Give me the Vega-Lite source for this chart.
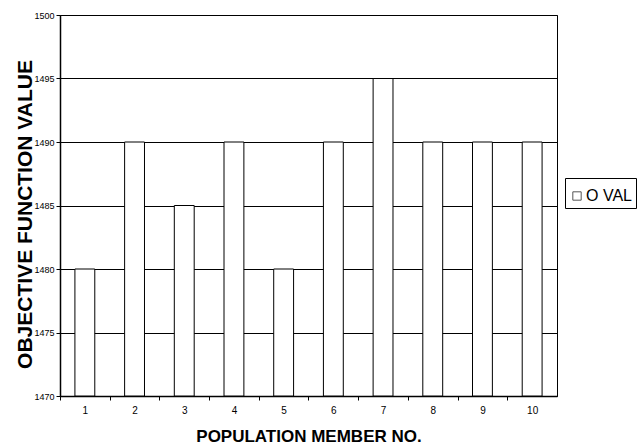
{
  "$schema": "https://vega.github.io/schema/vega-lite/v6.json",
  "width": 497,
  "height": 381,
  "autosize": {"type": "none"},
  "padding": {"left": 60, "top": 15, "right": 85, "bottom": 49},
  "background": "white",
  "config": {
    "font": "Liberation Sans",
    "view": {"stroke": "black", "strokeWidth": 1}
  },
  "data": {
    "values": [
      {"member": "1", "oval": 1480},
      {"member": "2", "oval": 1490},
      {"member": "3", "oval": 1485},
      {"member": "4", "oval": 1490},
      {"member": "5", "oval": 1480},
      {"member": "6", "oval": 1490},
      {"member": "7", "oval": 1495},
      {"member": "8", "oval": 1490},
      {"member": "9", "oval": 1490},
      {"member": "10", "oval": 1490}
    ]
  },
  "mark": {"type": "bar", "stroke": "black", "strokeWidth": 1},
  "encoding": {
    "x": {
      "field": "member",
      "type": "ordinal",
      "sort": null,
      "scale": {"paddingInner": 0.6, "paddingOuter": 0.3},
      "axis": {
        "title": "POPULATION MEMBER NO.",
        "titleFont": "Liberation Sans",
        "titleFontSize": 17,
        "titleFontWeight": "bold",
        "titleColor": "black",
        "titleBaseline": "alphabetic",
        "titleY": 45,
        "labelAngle": 0,
        "labelFontSize": 10,
        "labelColor": "black",
        "labelPadding": 5,
        "domainColor": "black",
        "domainWidth": 1.5,
        "tickColor": "black",
        "tickSize": 4,
        "bandPosition": 0.5,
        "tickOffset": -24.85,
        "labelOffset": 24.85
      }
    },
    "y": {
      "field": "oval",
      "type": "quantitative",
      "scale": {"domain": [1470, 1500], "zero": false, "nice": false},
      "axis": {
        "title": "OBJECTIVE FUNCTION VALUE",
        "titleFont": "Liberation Sans",
        "titleFontSize": 21,
        "titleFontWeight": "bold",
        "titleColor": "black",
        "titleAngle": -90,
        "titleAlign": "center",
        "titleBaseline": "alphabetic",
        "titleX": -29,
        "titleY": 199,
        "values": [1470, 1475, 1480, 1485, 1490, 1495, 1500],
        "format": "d",
        "labelFontSize": 9,
        "labelColor": "black",
        "labelPadding": 2,
        "domainColor": "black",
        "domainWidth": 1.5,
        "tickColor": "black",
        "tickSize": 4,
        "grid": true,
        "gridColor": "black",
        "gridWidth": 1,
        "gridOpacity": 1
      }
    },
    "y2": {"datum": 1470},
    "fill": {
      "datum": "O VAL",
      "scale": {"range": ["white"]},
      "legend": {
        "title": " ",
        "titleFontSize": 1,
        "titlePadding": 5,
        "orient": "none",
        "legendX": 505,
        "legendY": 163,
        "strokeColor": "black",
        "padding": 4,
        "symbolType": "square",
        "symbolSize": 70,
        "symbolStrokeColor": "#555",
        "symbolStrokeWidth": 1,
        "labelFontSize": 16,
        "labelColor": "black",
        "labelOffset": 1
      }
    }
  }
}
